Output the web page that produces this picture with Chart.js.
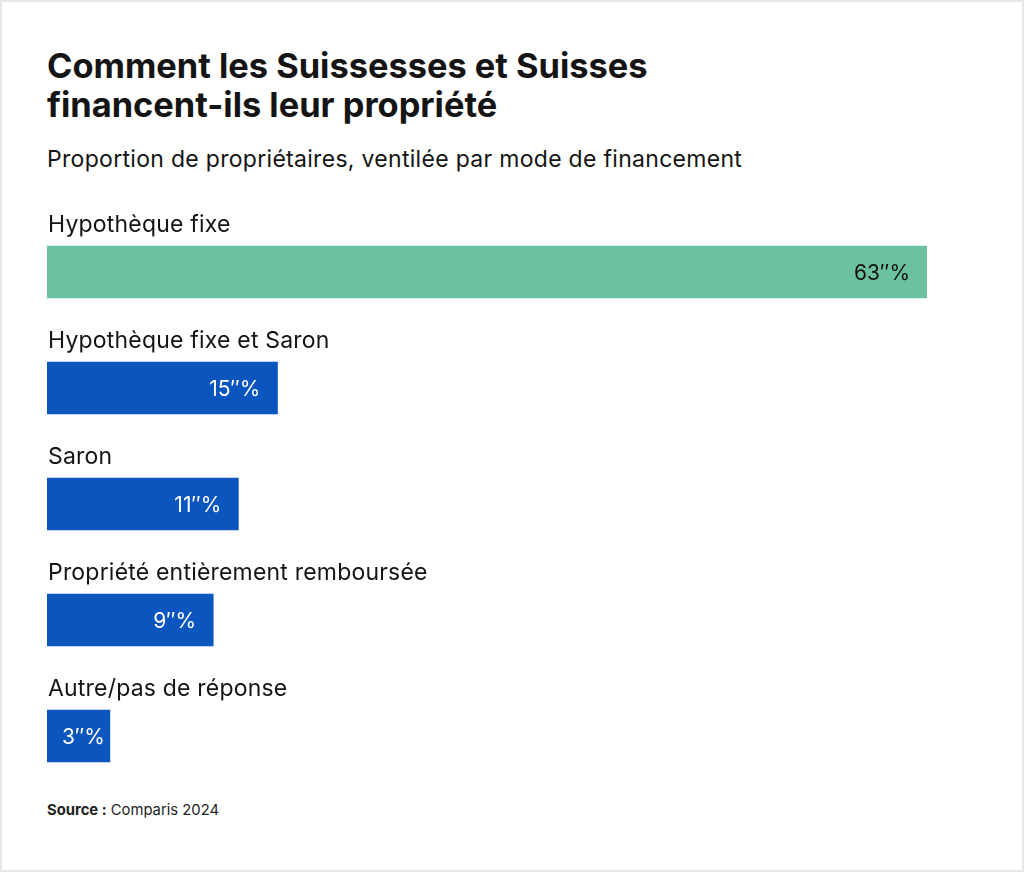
<!DOCTYPE html>
<html>
<head>
<meta charset="utf-8">
<script src="https://cdn.jsdelivr.net/npm/chart.js@4"></script>
<style>
  html, body { margin: 0; padding: 0; background: #fff; }
  #frame {
    position: relative; width: 1024px; height: 872px;
    box-sizing: border-box; border: 2px solid #e7e7e7;
    font-family: Inter, "Noto Sans", sans-serif; color: #141414;
  }
  h1 {
    position: absolute; left: 45px; top: 44px; margin: 0;
    font-size: 34.4px; line-height: 39px; font-weight: 700; letter-spacing: 0;
  }
  .sub {
    position: absolute; left: 45px; top: 143px; margin: 0;
    font-size: 23px; line-height: 28px; font-weight: 400; letter-spacing: 0.3px;
  }
  .src {
    position: absolute; left: 45px; top: 799px; margin: 0;
    font-size: 14.8px; line-height: 18px; color: #222;
  }
  #box { position: absolute; left: 45px; top: 186px; width: 882px; height: 606px; }
</style>
</head>
<body>
<div id="frame">
  <h1>Comment les Suissesses et Suisses<br>financent-ils leur propriété</h1>
  <p class="sub">Proportion de propriétaires, ventilée par mode de financement</p>
  <div id="box"><canvas id="myChart"></canvas></div>
  <p class="src"><b>Source :</b> Comparis 2024</p>
</div>
<script>
// categories and printed shares
const categories = ["Hypothèque fixe", "Hypothèque fixe et Saron", "Saron", "Propriété entièrement remboursée", "Autre/pas de réponse"];
const shares = [63, 15, 11, 9, 3];
// bar lengths as drawn in the picture (same % scale, short bars are drawn longer)
const barLengths = [63, 16.5, 13.7, 11.9, 4.5];
const barColors = ["#6cc29f", "#0b55be", "#0b55be", "#0b55be", "#0b55be"];
const textColors = ["#111111", "#ffffff", "#ffffff", "#ffffff", "#ffffff"];

const labelsPlugin = {
  id: 'barLabels',
  afterDatasetsDraw(chart) {
    const ctx = chart.ctx;
    const meta = chart.getDatasetMeta(0);
    ctx.save();
    ctx.textBaseline = 'alphabetic';
    meta.data.forEach((bar, i) => {
      const top = bar.y - bar.height / 2;
      // category above the bar
      ctx.font = '400 23px Inter, "Noto Sans", sans-serif';
      ctx.letterSpacing = '0.2px';
      ctx.fillStyle = '#141414';
      ctx.textAlign = 'left';
      ctx.fillText(categories[i], bar.base + 1, top - 14);
      // value inside the bar
      ctx.font = '400 21px Inter, "Noto Sans", sans-serif';
      ctx.letterSpacing = '0px';
      const txt = shares[i] + '\u2033%';
      const w = ctx.measureText(txt).width;
      ctx.fillStyle = textColors[i];
      ctx.textAlign = 'right';
      ctx.fillText(txt, Math.max(bar.x - 17, bar.base + 15 + w), bar.y + 8);
    });
    ctx.restore();
  }
};

var ctx = document.getElementById('myChart').getContext('2d');
var chart = new Chart(ctx, {
  type: 'bar',
  data: {
    labels: categories,
    datasets: [{
      data: barLengths,
      backgroundColor: barColors,
      borderWidth: 0,
      barThickness: 52
    }]
  },
  options: {
    indexAxis: 'y',
    responsive: true,
    maintainAspectRatio: false,
    animation: false,
    layout: { padding: { top: 26, left: 0, right: 2, bottom: 0 } },
    plugins: { legend: { display: false }, tooltip: { enabled: false } },
    scales: {
      x: { display: false, min: 0, max: 63, grid: { display: false } },
      y: { display: false, grid: { display: false } }
    }
  },
  plugins: [labelsPlugin]
});
</script>
</body>
</html>
